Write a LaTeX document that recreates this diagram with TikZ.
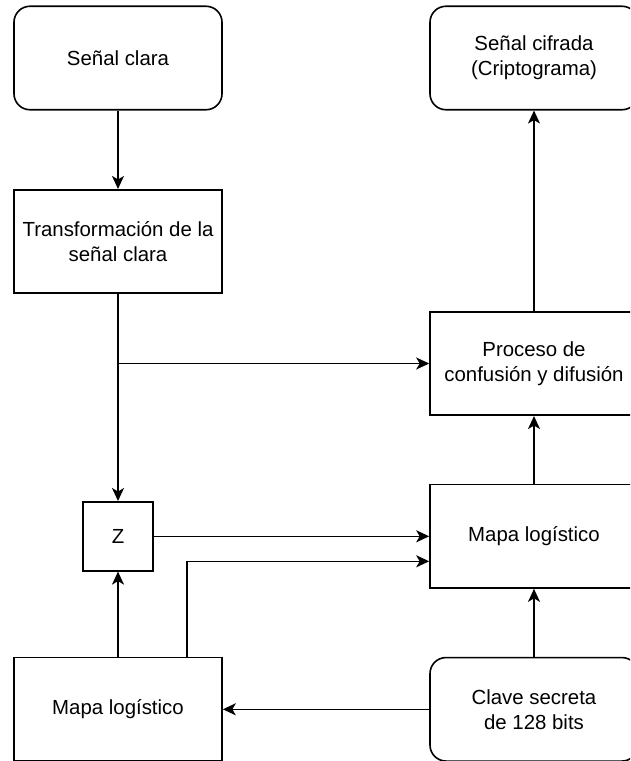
\documentclass[tikz,border=0pt]{standalone}
\usepackage{fontspec}
\setmainfont{Liberation Sans}
\usetikzlibrary{arrows.meta}
\begin{document}
\begin{tikzpicture}[x=1pt,y=1pt,
  box/.style={draw,line width=1.6pt,minimum width=208pt,minimum height=103.5pt,inner sep=0pt,align=center,font=\fontsize{20.4}{25}\selectfont},
  rbox/.style={box,rounded corners=16pt},
  zbox/.style={draw,line width=1.6pt,minimum width=70pt,minimum height=69pt,inner sep=0pt,font=\fontsize{20.4}{25}\selectfont},
  arr/.style={line width=1.6pt,-{Stealth[length=13pt,width=12pt,inset=3.5pt]}}]
\useasboundingbox (0,0) rectangle (630,-761);
\clip (0,0) rectangle (630,-761);
\fill[white] (0,0) rectangle (630,-761);
\node[rbox] (a) at (118,-58) {Señal clara};
\node[box] (b) at (118,-241.5) {Transformación de la\\señal clara};
\node[rbox] (c) at (534,-58) {Señal cifrada\\(Criptograma)};
\node[box] (d) at (534,-363.5) {Proceso de\\confusión y difusión};
\node[zbox] (z) at (118,-536.3) {Z};
\node[box] (e) at (534,-536.3) {Mapa logístico};
\node[box] (f) at (118,-709.3) {Mapa logístico};
\node[rbox] (g) at (534,-709.3) {Clave secreta\\de 128 bits};
\draw[arr] (a.south) -- (b.north);
\draw[arr] (b.south) -- (z.north);
\draw[arr] (b.south |- d.west) -- (d.west);
\draw[arr] (d.north) -- (c.south);
\draw[arr] (e.north) -- (d.south);
\draw[arr] (g.north) -- (e.south);
\draw[arr] (g.west) -- (f.east);
\draw[arr] (f.north) -- (z.south);
\draw[arr] (z.east) -- (z.east -| e.west);
\draw[arr] ([xshift=69pt]f.north) |- ([yshift=-25pt]e.west);
\end{tikzpicture}
\end{document}
